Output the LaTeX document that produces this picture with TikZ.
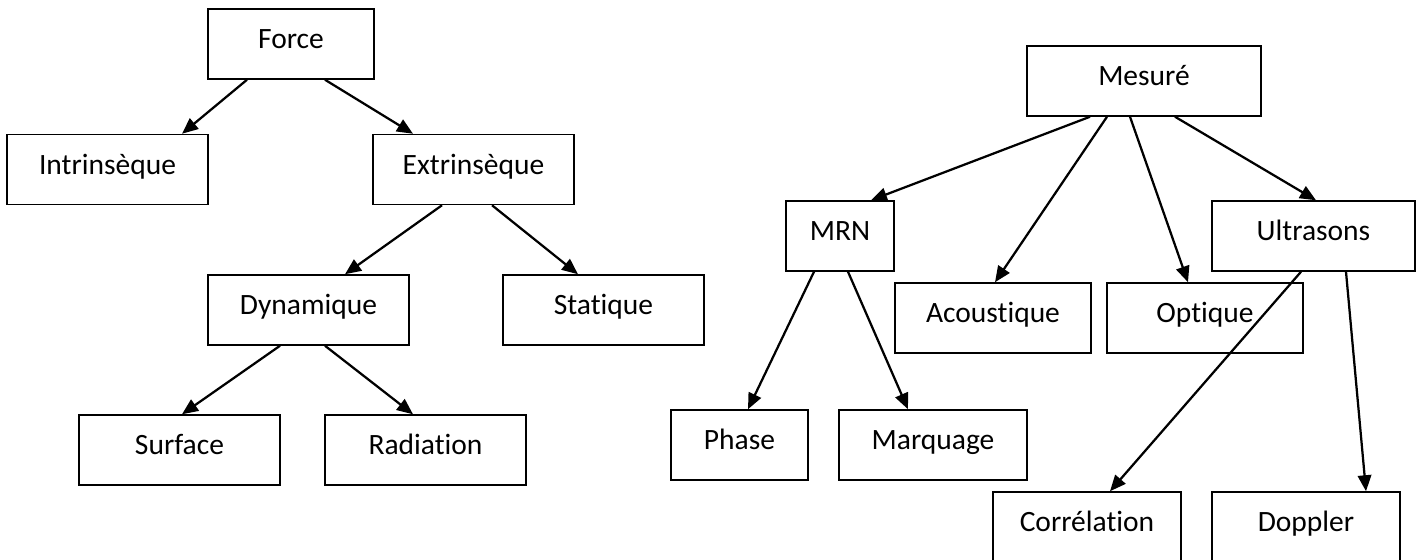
\documentclass[tikz,border=0pt]{standalone}
\usepackage{fontspec}
\setmainfont{Carlito}[Ligatures=CommonOff]
\usetikzlibrary{arrows.meta,calc}

\begin{document}
\begin{tikzpicture}[x=0.4pt,y=-0.4pt,
    box/.style={draw,line width=0.6pt,inner sep=0pt,minimum height=28pt,
      text height=7.6pt,text depth=4pt,font=\fontsize{11.8}{14}\selectfont},
    link/.style={-{Triangle[length=6.4pt,width=5.4pt]},line width=0.9pt}]
  \useasboundingbox (0,0) rectangle (1421,560);
  \clip (0,0) rectangle (1421,560);
  \foreach \nm/\txt/\x/\y/\w in {
    force/Force/291/44/166,
    intr/Intrinsèque/107.5/169.5/201,
    extr/Extrinsèque/473.5/169.5/201,
    dyn/Dynamique/308.5/310/201,
    stat/Statique/603.5/310/201,
    surf/Surface/179.5/450/201,
    rad/Radiation/425.5/450/201,
    mes/Mesuré/1144/81/234,
    mrn/MRN/840/236/108,
    ultra/Ultrasons/1313.5/236/203,
    acou/Acoustique/993/318/196,
    opt/Optique/1205/318/196,
    phase/Phase/739.5/445/137,
    marq/Marquage/933/445/188,
    corr/Corrélation/1087/527/188,
    dopp/Doppler/1306/527/188}
  {
    \node[box,minimum width=\w*0.4pt] (\nm) at (\x,\y) {\txt};
  }
  \foreach \a/\da/\b/\db in {
    force/-44/intr/74.5, force/34/extr/-60.5,
    extr/-31.5/dyn/36.5, extr/18.5/stat/-25.5,
    dyn/-28.5/surf/2.5, dyn/16.5/rad/-12.5,
    mes/-54/mrn/31, mes/-37/acou/2, mes/-14/opt/-17, mes/31/ultra/2.5,
    mrn/-26/phase/8.5, mrn/8/marq/-25,
    ultra/-12.5/corr/23, ultra/32.5/dopp/60}
  {
    \draw[link] ($(\a.south)+(\da,0)$) -- ($(\b.north)+(\db,0)$);
  }
\end{tikzpicture}
\end{document}
